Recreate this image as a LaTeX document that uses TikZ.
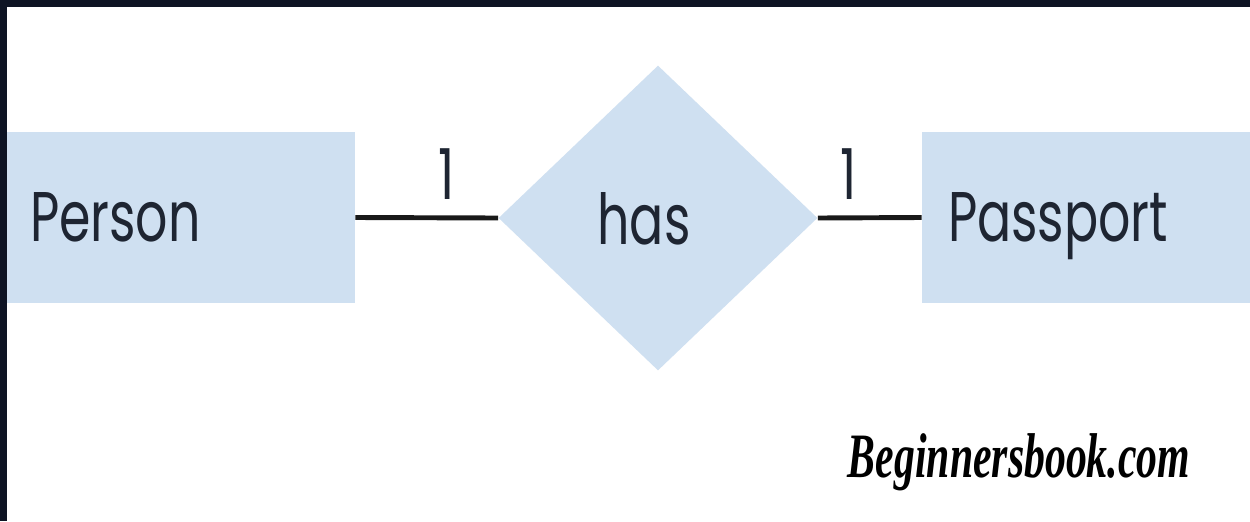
\documentclass[tikz,border=0pt]{standalone}
\usepackage{fontspec}
\usetikzlibrary{shapes.geometric}
\newfontfamily\erfont[FakeStretch=0.72]{Poppins}
\newfontfamily\markfont[FakeStretch=0.66]{Liberation Serif}
\definecolor{frame}{HTML}{0E1424}
\definecolor{boxfill}{HTML}{CFE0F1}
\definecolor{ink}{HTML}{1E2532}
\tikzset{
  entity/.style={fill=boxfill, draw=none, minimum height=3.42cm, inner ysep=0pt, text depth=0pt, align=left, font=\erfont\fontsize{40}{40}\selectfont, text=ink},
  relation/.style={diamond, fill=boxfill, draw=none, inner sep=0pt, text depth=0pt, minimum width=6.38cm, minimum height=6.1cm, font=\erfont\fontsize{40}{40}\selectfont, text=ink},
  link/.style={line width=2.8pt, draw=black!90},
  card/.style={anchor=base, font=\erfont\fontsize{40}{40}\selectfont, text=ink}
}
\begin{document}
\begin{tikzpicture}[x=0.02cm, y=-0.02cm]
  \useasboundingbox (0,0) rectangle (1250,521);
  \fill[white] (0,0) rectangle (1250,521);
  \fill[frame] (0,0) rectangle (1250,7);
  \fill[frame] (0,0) rectangle (7,521);
  \node[entity, text width=6.04cm, inner xsep=0.46cm] (person) at (181,217.5) {Person};
  \node[entity, text width=5.52cm, inner xsep=0.52cm] (passport) at (1086,217.5) {Passport};
  \node[relation] (has) at (658,218) {has\hspace*{0.56cm}};
  \draw[link] (person.east) -- node[card, pos=0.64, yshift=0.36cm] (c1) {1} (has.west);
  \draw[link] (has.east) -- node[card, pos=0.3, yshift=0.36cm] (c2) {1} (passport.west);
  \node[font=\markfont\bfseries\itshape\fontsize{36}{36}\selectfont, text=black, anchor=base] (mark) at (1019,477) {Beginnersbook.com};
\end{tikzpicture}
\end{document}
